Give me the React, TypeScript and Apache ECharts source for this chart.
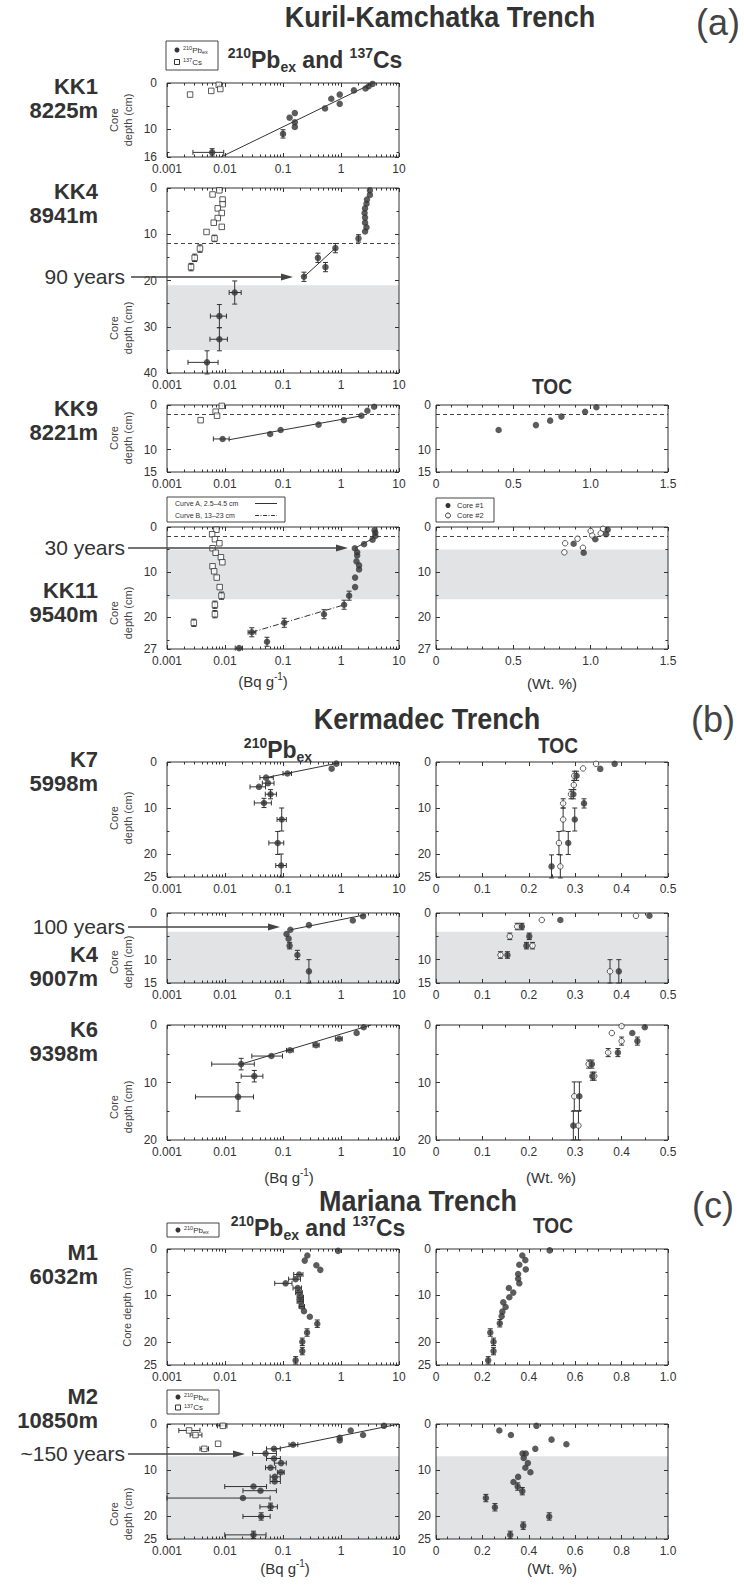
import React, { useEffect, useRef } from "react";
import * as echarts from "echarts";

const FONT = '"Liberation Sans", Arial, Helvetica, sans-serif';
const INK = "#333333";
const SHADE = "#e2e3e5";

/* ---------------- tick values ---------------- */
const logMajor = [0.001, 0.01, 0.1, 1, 10];
const logMinor = [0.002, 0.003, 0.004, 0.005, 0.006, 0.007, 0.008, 0.009, 0.02, 0.03, 0.04, 0.05, 0.06, 0.07, 0.08, 0.09, 0.2, 0.3, 0.4, 0.5, 0.6, 0.7, 0.8, 0.9, 2, 3, 4, 5, 6, 7, 8, 9];
const tocAMajor = [0, 0.5, 1.0, 1.5];
const tocAMinor = [0.1, 0.2, 0.3, 0.4, 0.6, 0.7, 0.8, 0.9, 1.1, 1.2, 1.3, 1.4];
const tocBMajor = [0, 0.1, 0.2, 0.3, 0.4, 0.5];
const tocBMinor = [0.05, 0.15, 0.25, 0.35, 0.45];
const tocCMajor = [0, 0.2, 0.4, 0.6, 0.8, 1.0];
const tocCMinor = [0.05, 0.1, 0.15, 0.25, 0.3, 0.35, 0.45, 0.5, 0.55, 0.65, 0.7, 0.75, 0.85, 0.9, 0.95];

const depthKK1 = [0, 10, 16];
const depthKK4 = [0, 10, 20, 30, 40];
const depth15 = [0, 10, 15];
const depthKK11 = [0, 10, 20, 27];
const depth25 = [0, 10, 20, 25];
const depth20 = [0, 10, 20];

/* ---------------- data ----------------
   activity points: [Bq/g, depth cm, xLow?, xHigh?, depthErr?]
   TOC points: [wt %, depth cm, depthErr?]                                  */
const kk1Pb = [[3.5, 0.2], [3.0, 0.7], [2.65, 1.2], [1.67, 1.6], [0.95, 2.5], [0.68, 3.4], [0.95, 4.5], [0.53, 5.5], [0.16, 6.5], [0.13, 7.5], [0.16, 8.5], [0.16, 9.5], [0.1, 11, null, null, 0.9], [0.006, 15, 0.0028, 0.0095, 0.8]];
const kk1Cs = [[0.0025, 2.5], [0.0058, 1.7], [0.0078, 0.4], [0.0083, 1.3]];
const kk1Fit = [[0.0085, 16], [3.6, 0]];

const kk4Pb = [[3.15, 0.5], [3.15, 1.5], [2.8, 2.5], [2.75, 3.4], [2.6, 4.4], [2.55, 5.4], [2.6, 6.4], [2.6, 7.5], [2.75, 8.5], [2.6, 9.4], [2.0, 10.9, null, null, 0.8], [0.8, 13.0, null, null, 1], [0.4, 15.1, null, null, 1], [0.54, 17.1, null, null, 1], [0.23, 19.2, null, null, 1], [0.0147, 22.6, 0.0118, 0.019, 2.5], [0.008, 27.7, 0.0056, 0.0106, 2.5], [0.008, 32.7, 0.0055, 0.011, 2.5], [0.0049, 37.7, 0.0023, 0.0076, 2.5]];
const kk4Cs = [[0.008, 0.5], [0.0061, 1.4], [0.0091, 2.5], [0.0091, 3.5], [0.0075, 4.4], [0.0088, 5.4], [0.0075, 6.5], [0.0064, 7.5], [0.0088, 8.4], [0.0048, 9.5], [0.0066, 10.9, null, null, 0.7], [0.0037, 13.1, null, null, 0.8], [0.003, 15.1, null, null, 0.8], [0.0026, 17.1, null, null, 0.8]];
const kk4Fit = [[0.23, 19.2], [0.8, 13.0]];

const kk9Pb = [[3.72, 0.4], [2.85, 1.3], [2.25, 2.4], [1.12, 3.4], [0.41, 4.4], [0.091, 5.6], [0.06, 6.5], [0.0091, 7.6, 0.0063, 0.0118]];
const kk9Cs = [[0.0088, 0.2], [0.0069, 1.5], [0.0073, 2.4], [0.0038, 3.4]];
const kk9Fit = [[0.0115, 7.8], [2.3, 2.4]];
const kk9Toc = [[1.037, 0.5], [0.964, 1.5], [0.811, 2.6], [0.738, 3.5], [0.646, 4.5], [0.405, 5.6]];

const kk11Pb = [[3.8, 0.7], [3.9, 1.3], [3.9, 2.0], [3.5, 2.8], [2.5, 3.8], [1.73, 4.7], [1.9, 5.6], [1.9, 6.3], [1.85, 7.6], [2.05, 8.5], [2.05, 9.4], [1.75, 11.2], [1.75, 13.3], [1.38, 15.2, null, null, 1], [1.13, 17.2, null, null, 1], [0.51, 19.3, null, null, 1], [0.105, 21.2, null, null, 1], [0.029, 23.3, 0.025, 0.034, 1], [0.053, 25.4, null, null, 1], [0.0175, 26.8, 0.015, 0.02]];
const kk11Cs = [[0.0071, 0.6], [0.006, 1.6], [0.0067, 2.7], [0.008, 3.6], [0.0061, 4.7], [0.0069, 5.7], [0.0085, 6.7], [0.009, 7.8], [0.0061, 8.7], [0.0065, 9.8], [0.0072, 11.2], [0.0081, 13.3], [0.0087, 15.2, null, null, 0.8], [0.0067, 17.2, null, null, 0.8], [0.0067, 19.3, null, null, 0.8], [0.0029, 21.2, null, null, 0.8]];
const kk11CurveA = [[1.73, 4.7], [3.6, 2.5]];
const kk11CurveB = [[0.029, 23.3], [1.15, 17.2]];
const kk11Toc1 = [[1.11, 0.6], [1.10, 1.6], [1.03, 2.7], [0.89, 3.7], [0.955, 5.7]];
const kk11Toc2 = [[1.08, 0.4], [1.0, 0.9], [1.065, 1.4], [1.01, 1.9], [0.915, 2.6], [0.835, 3.6], [0.95, 4.6], [0.83, 5.6]];

const k7Pb = [[0.83, 0.36], [0.69, 1.45], [0.119, 2.5, 0.1, 0.14], [0.051, 3.4, 0.04, 0.068], [0.055, 4.6, 0.044, 0.07], [0.0385, 5.4, 0.027, 0.05], [0.061, 7.0, 0.0495, 0.077, 1], [0.047, 8.9, 0.032, 0.063, 1], [0.095, 12.5, 0.079, 0.114, 2.5], [0.081, 17.6, 0.057, 0.103, 2.5], [0.093, 22.5, 0.075, 0.114, 2.5]];
const k7Fit = [[0.051, 3.4], [0.92, 0.2]];
const k7Toc1 = [[0.385, 0.4], [0.354, 1.5], [0.303, 3.0, 1], [0.296, 7.0, 1], [0.319, 9.0, 1], [0.299, 12.5, 2.5], [0.285, 17.6, 2.5], [0.249, 22.7, 2.5]];
const k7Toc2 = [[0.345, 0.4], [0.317, 1.4], [0.298, 3.0, 1], [0.297, 5.0, 1], [0.291, 7.0, 1], [0.274, 9.0, 1], [0.274, 12.5, 2.5], [0.265, 17.6, 2.5], [0.268, 22.7, 2.5]];

const k4Pb = [[2.4, 0.7], [1.6, 1.6], [0.28, 2.6], [0.134, 3.6], [0.115, 4.5], [0.125, 5.5], [0.13, 7.0, null, null, 0.7], [0.177, 9.0, null, null, 1], [0.28, 12.5, null, null, 2.5]];
const k4Fit = [[0.134, 3.6], [2.66, 0.36]];
const k4Toc1 = [[0.46, 0.6], [0.268, 1.5], [0.185, 2.9, 0.7], [0.201, 5.0, 0.7], [0.195, 7.0, 0.7], [0.154, 9.0, 0.7], [0.394, 12.5, 2.5]];
const k4Toc2 = [[0.431, 0.6], [0.228, 1.5], [0.175, 2.9, 0.7], [0.159, 5.0, 0.7], [0.208, 7.0, 0.7], [0.139, 9.0, 0.7], [0.375, 12.5, 2.5]];

const k6Pb = [[2.46, 0.4], [1.86, 1.4], [0.93, 2.4, 0.8, 1.05], [0.37, 3.5, 0.33, 0.42], [0.132, 4.4, 0.115, 0.15], [0.063, 5.4, 0.029, 0.098], [0.019, 6.8, 0.0059, 0.032, 1], [0.032, 8.9, 0.019, 0.045, 1], [0.0168, 12.5, 0.0031, 0.031, 2.5]];
const k6Fit = [[0.019, 6.8], [3.3, 0]];
const k6Toc1 = [[0.45, 0.4], [0.423, 1.4], [0.434, 2.8, 0.7], [0.392, 4.8, 0.7], [0.336, 6.8, 0.7], [0.337, 8.9, 0.7], [0.309, 12.4, 2.5], [0.296, 17.5, 2.5]];
const k6Toc2 = [[0.40, 0.2], [0.379, 1.4], [0.40, 2.8, 0.7], [0.371, 4.8, 0.7], [0.329, 6.8, 0.7], [0.341, 8.9, 0.7], [0.298, 12.4, 2.5], [0.307, 17.5, 2.5]];

const m1Pb = [[0.89, 0.4], [0.263, 1.4], [0.237, 2.5], [0.376, 3.5], [0.44, 4.5], [0.19, 5.5, 0.153, 0.221], [0.165, 6.5, 0.125, 0.2], [0.111, 7.4, 0.072, 0.143], [0.179, 8.4, 0.149, 0.208], [0.19, 9.4, 0.165, 0.215], [0.2, 10.4, 0.175, 0.225], [0.2, 11.3, 0.175, 0.225], [0.21, 12.4, 0.19, 0.235], [0.23, 13.4], [0.29, 14.6], [0.39, 16.1, null, null, 0.8], [0.26, 18.0, null, null, 0.8], [0.215, 20.0, null, null, 0.8], [0.215, 22.0, null, null, 0.8], [0.165, 24.0, null, null, 0.8]];
const m1Toc = [[0.49, 0.3], [0.372, 1.4], [0.385, 2.4], [0.359, 3.4], [0.387, 4.4], [0.354, 5.4], [0.354, 6.4], [0.359, 7.4], [0.314, 8.4], [0.333, 9.4], [0.316, 10.4], [0.29, 11.5], [0.30, 12.5], [0.286, 13.5], [0.283, 14.5], [0.275, 16.0, 0.8], [0.234, 18.0, 0.8], [0.248, 20.0, 0.8], [0.248, 22.0, 0.8], [0.225, 24.0, 0.8]];

const m2Pb = [[5.5, 0.4], [1.47, 1.4], [2.4, 2.4], [0.95, 3.0], [0.95, 3.6], [0.149, 4.5, 0.127, 0.18], [0.07, 5.4, 0.052, 0.09], [0.05, 6.4, 0.03, 0.077], [0.07, 7.5, 0.052, 0.09], [0.093, 8.5, 0.071, 0.114], [0.061, 9.5, 0.05, 0.075], [0.092, 10.5, 0.08, 0.105], [0.072, 11.5, 0.06, 0.09], [0.072, 12.5, 0.06, 0.09], [0.031, 13.6, 0.0099, 0.052], [0.041, 14.5, 0.0204, 0.077], [0.0204, 16.1, 0.001, 0.06], [0.061, 18.0, 0.04, 0.08, 0.8], [0.042, 20.1, 0.0204, 0.06, 0.8], [0.031, 24.1, 0.0099, 0.051, 0.8]];
const m2Cs = [[0.0092, 0.4, 0.0074, 0.0108], [0.0024, 1.4, 0.0016, 0.0037], [0.0031, 2.4, 0.0025, 0.004], [0.0076, 4.3], [0.0044, 5.4, 0.0037, 0.0052]];
const m2Fit = [[0.065, 5.6], [10, 0]];
const m2Toc = [[0.433, 0.4], [0.273, 1.4], [0.323, 2.4], [0.498, 3.4], [0.562, 4.4], [0.428, 5.4], [0.373, 6.4], [0.387, 6.4], [0.378, 7.4], [0.396, 8.5], [0.385, 9.5], [0.407, 10.5], [0.354, 11.5], [0.334, 12.6], [0.352, 13.6, 0.8], [0.372, 14.6, 0.8], [0.215, 16.1, 0.8], [0.254, 18.1, 0.8], [0.488, 20.1, 0.8], [0.376, 22.1, 0.8], [0.32, 24.1, 0.8]];

/* ---------------- layout ---------------- */
const LX = 167;
const RX = 436;
const PW = 232;
const panels: any[] = [
  { left: LX, top: 83, height: 74, x: "log", yMax: 16, yMajor: depthKK1, yMinor: [5, 15] },
  { left: LX, top: 188, height: 185, x: "log", yMax: 40, yMajor: depthKK4, yMinor: [5, 15, 25, 35] },
  { left: LX, top: 405, height: 67, x: "log", yMax: 15, yMajor: depth15, yMinor: [5] },
  { left: RX, top: 405, height: 67, x: "a", yMax: 15, yMajor: depth15, yMinor: [5] },
  { left: LX, top: 527, height: 122, x: "log", yMax: 27, yMajor: depthKK11, yMinor: [5, 15, 25] },
  { left: RX, top: 527, height: 122, x: "a", yMax: 27, yMajor: depthKK11, yMinor: [5, 15, 25] },
  { left: LX, top: 762, height: 115, x: "log", yMax: 25, yMajor: depth25, yMinor: [5, 15] },
  { left: RX, top: 762, height: 115, x: "b", yMax: 25, yMajor: depth25, yMinor: [5, 15] },
  { left: LX, top: 913, height: 70, x: "log", yMax: 15, yMajor: depth15, yMinor: [5] },
  { left: RX, top: 913, height: 70, x: "b", yMax: 15, yMajor: depth15, yMinor: [5] },
  { left: LX, top: 1025, height: 115, x: "log", yMax: 20, yMajor: depth20, yMinor: [5, 15] },
  { left: RX, top: 1025, height: 115, x: "b", yMax: 20, yMajor: depth20, yMinor: [5, 15] },
  { left: LX, top: 1249, height: 116, x: "log", yMax: 25, yMajor: depth25, yMinor: [5, 15] },
  { left: RX, top: 1249, height: 116, x: "c", yMax: 25, yMajor: depth25, yMinor: [5, 15] },
  { left: LX, top: 1424, height: 115, x: "log", yMax: 25, yMajor: depth25, yMinor: [5, 15] },
  { left: RX, top: 1424, height: 115, x: "c", yMax: 25, yMajor: depth25, yMinor: [5, 15] },
];

const tocFmt = (v: number) => (v === 0 ? "0" : v.toFixed(1));
const XS: any = {
  log: { type: "log", min: 0.001, max: 10, major: logMajor, minor: logMinor, fmt: (v: number) => String(+Number(v).toPrecision(3)) },
  a: { type: "value", min: 0, max: 1.5, major: tocAMajor, minor: tocAMinor, fmt: tocFmt },
  b: { type: "value", min: 0, max: 0.5, major: tocBMajor, minor: tocBMinor, fmt: tocFmt },
  c: { type: "value", min: 0, max: 1.0, major: tocCMajor, minor: tocCMinor, fmt: tocFmt },
};

function buildOption() {
  const grid: any[] = [];
  const xAxis: any[] = [];
  const yAxis: any[] = [];
  const series: any[] = [];
  const graphic: any[] = [];

  const lbl = { color: INK, fontSize: 12, fontFamily: FONT };
  const tick = (len: number, vals?: number[]) => ({
    show: true, inside: true, length: len, lineStyle: { color: INK, width: 1 },
    ...(vals ? { customValues: vals } : {}),
  });

  panels.forEach((p, i) => {
    grid.push({ left: p.left, top: p.top, width: PW, height: p.height, show: true, borderColor: INK, borderWidth: 1, backgroundColor: "transparent", z: 3 });
    const xs = XS[p.x];
    const base = { gridIndex: i, axisLine: { show: false, onZero: false }, splitLine: { show: false }, z: 3 };
    if (xs.type === "log") {
      const lg = { ...base, type: "log", logBase: 10, min: xs.min, max: xs.max, splitNumber: 4 };
      xAxis.push({ ...lg, position: "bottom", axisTick: tick(4), axisLabel: { ...lbl, margin: 6, interval: 0, formatter: xs.fmt } });
      xAxis.push({ ...lg, position: "top", axisTick: tick(4), axisLabel: { show: false } });
      const mv = xs.minor.map((v: number) => Math.log10(v));
      xAxis.push({ ...base, type: "value", min: -3, max: 1, position: "bottom", axisTick: tick(2.5, mv), axisLabel: { show: false } });
      xAxis.push({ ...base, type: "value", min: -3, max: 1, position: "top", axisTick: tick(2.5, mv), axisLabel: { show: false } });
    } else {
      const lv = { ...base, type: "value", min: xs.min, max: xs.max };
      xAxis.push({ ...lv, position: "bottom", axisTick: tick(4, xs.major), axisLabel: { ...lbl, margin: 6, customValues: xs.major, formatter: xs.fmt } });
      xAxis.push({ ...lv, position: "top", axisTick: tick(4, xs.major), axisLabel: { show: false } });
      xAxis.push({ ...lv, position: "bottom", axisTick: tick(2.5, xs.minor), axisLabel: { show: false } });
      xAxis.push({ ...lv, position: "top", axisTick: tick(2.5, xs.minor), axisLabel: { show: false } });
    }
    const yb = { ...base, type: "value", min: 0, max: p.yMax, inverse: true };
    const ym = p.left === LX ? 10 : 5;
    yAxis.push({ ...yb, position: "left", axisTick: tick(4, p.yMajor), axisLabel: { ...lbl, margin: ym, customValues: p.yMajor } });
    yAxis.push({ ...yb, position: "right", axisTick: tick(4, p.yMajor), axisLabel: { show: false } });
    yAxis.push({ ...yb, position: "left", axisTick: tick(2.5, p.yMinor), axisLabel: { show: false } });
    yAxis.push({ ...yb, position: "right", axisTick: tick(2.5, p.yMinor), axisLabel: { show: false } });
  });

  const ax = (i: number) => ({ xAxisIndex: 4 * i, yAxisIndex: 4 * i });
  const tocPts = (pts: any[]) => pts.map((q) => [q[0], q[1], null, null, q[2] == null ? null : q[2]]);

  function dots(i: number, pts: any[], kind: string, extra: any = {}) {
    const open = kind !== "dot";
    series.push({
      type: "scatter", ...ax(i), z: 5, silent: true,
      data: pts.map((q) => [q[0], q[1]]),
      symbol: kind === "sq" ? "rect" : "circle",
      symbolSize: open ? 5.5 : 6.5,
      itemStyle: open ? { color: "#ffffff", borderColor: INK, borderWidth: 1 } : { color: INK },
      ...extra,
    });
    const withErr = pts.filter((q) => q[2] != null || q[4] != null);
    if (withErr.length) {
      series.push({
        type: "custom", ...ax(i), z: 4, silent: true,
        dimensions: ["x", "d", "xl", "xh", "de"],
        encode: { x: 0, y: 1 },
        data: withErr.map((q) => [q[0], q[1], q[2] == null ? q[0] : q[2], q[3] == null ? q[0] : q[3], q[4] == null ? 0 : q[4]]),
        renderItem: (_params: any, api: any) => {
          const x = api.value(0), d = api.value(1), xl = api.value(2), xh = api.value(3), de = api.value(4);
          const st = { stroke: INK, lineWidth: 1 };
          const kids: any[] = [];
          const cap = 2.5;
          if (xl !== xh) {
            const a = api.coord([xl, d]);
            const b = api.coord([xh, d]);
            kids.push({ type: "line", shape: { x1: a[0], y1: a[1], x2: b[0], y2: b[1] }, style: st });
            kids.push({ type: "line", shape: { x1: a[0], y1: a[1] - cap, x2: a[0], y2: a[1] + cap }, style: st });
            kids.push({ type: "line", shape: { x1: b[0], y1: b[1] - cap, x2: b[0], y2: b[1] + cap }, style: st });
          }
          if (de > 0) {
            const a = api.coord([x, d - de]);
            const b = api.coord([x, d + de]);
            kids.push({ type: "line", shape: { x1: a[0], y1: a[1], x2: b[0], y2: b[1] }, style: st });
            kids.push({ type: "line", shape: { x1: a[0] - cap, y1: a[1], x2: a[0] + cap, y2: a[1] }, style: st });
            kids.push({ type: "line", shape: { x1: b[0] - cap, y1: b[1], x2: b[0] + cap, y2: b[1] }, style: st });
          }
          return { type: "group", children: kids };
        },
      });
    }
  }

  function fit(i: number, pts: any[], dash?: any) {
    series.push({
      type: "line", ...ax(i), z: 4, silent: true, symbol: "none",
      data: pts, lineStyle: { color: INK, width: 1, type: dash || "solid" },
    });
  }

  function decor(i: number, shade?: number[], dashAt?: number) {
    const xs = XS[panels[i].x];
    const extra: any = {};
    if (shade) {
      extra.markArea = {
        silent: true, z: 1, itemStyle: { color: SHADE },
        data: [[{ coord: [xs.min, shade[0]] }, { coord: [xs.max, shade[1]] }]],
      };
    }
    if (dashAt != null) {
      extra.markLine = {
        silent: true, z: 2, symbol: ["none", "none"], label: { show: false },
        lineStyle: { color: "#444", width: 1, type: [4, 3] },
        data: [[{ coord: [xs.min, dashAt] }, { coord: [xs.max, dashAt] }]],
      };
    }
    series.push({ type: "line", ...ax(i), data: [], symbol: "none", ...extra });
  }

  // (a) Kuril-Kamchatka
  fit(0, kk1Fit); dots(0, kk1Pb, "dot"); dots(0, kk1Cs, "sq");
  decor(1, [21, 35], 12); fit(1, kk4Fit); dots(1, kk4Pb, "dot"); dots(1, kk4Cs, "sq");
  decor(2, undefined, 2); fit(2, kk9Fit); dots(2, kk9Pb, "dot"); dots(2, kk9Cs, "sq");
  decor(3, undefined, 2); dots(3, tocPts(kk9Toc), "dot");
  decor(4, [5, 16], 2); fit(4, kk11CurveA); fit(4, kk11CurveB, [6, 2, 1, 2]); dots(4, kk11Pb, "dot"); dots(4, kk11Cs, "sq");
  decor(5, [5, 16], 2); dots(5, tocPts(kk11Toc2), "ring"); dots(5, tocPts(kk11Toc1), "dot");
  // (b) Kermadec
  fit(6, k7Fit); dots(6, k7Pb, "dot");
  dots(7, tocPts(k7Toc2), "ring"); dots(7, tocPts(k7Toc1), "dot");
  decor(8, [4, 15]); fit(8, k4Fit); dots(8, k4Pb, "dot");
  decor(9, [4, 15]); dots(9, tocPts(k4Toc2), "ring"); dots(9, tocPts(k4Toc1), "dot");
  fit(10, k6Fit); dots(10, k6Pb, "dot");
  dots(11, tocPts(k6Toc2), "ring"); dots(11, tocPts(k6Toc1), "dot");
  // (c) Mariana
  dots(12, m1Pb, "dot");
  dots(13, tocPts(m1Toc), "dot");
  decor(14, [7, 25]); fit(14, m2Fit); dots(14, m2Pb, "dot"); dots(14, m2Cs, "sq");
  decor(15, [7, 25]); dots(15, tocPts(m2Toc), "dot");

  /* ---------------- texts & annotations ---------------- */
  const T = (x: number, y: number, text: string, fontSize: number, o: any = {}) =>
    graphic.push({
      type: "text", x, y, z: 100, silent: true,
      rotation: o.rotation || 0, scaleX: o.scaleX || 1,
      style: {
        text, fontSize, fontFamily: FONT, fontWeight: o.bold ? "bold" : "normal",
        fill: o.fill || INK, align: o.align || "center", verticalAlign: "middle",
        lineHeight: o.lineHeight, rich: o.rich,
      },
    });

  const richTitle = {
    n: { fontSize: 23, fontWeight: "bold", fontFamily: FONT, fill: INK, lineHeight: 28, verticalAlign: "middle" },
    sp: { fontSize: 14, fontWeight: "bold", fontFamily: FONT, fill: INK, lineHeight: 18, verticalAlign: "top" },
    sb: { fontSize: 14, fontWeight: "bold", fontFamily: FONT, fill: INK, lineHeight: 18, verticalAlign: "bottom" },
  };
  const richSmall = {
    n: { fontSize: 8, fontFamily: FONT, fill: INK, lineHeight: 10, verticalAlign: "middle" },
    sp: { fontSize: 5.5, fontFamily: FONT, fill: INK, lineHeight: 6.5, verticalAlign: "top" },
    sb: { fontSize: 5.5, fontFamily: FONT, fill: INK, lineHeight: 6.5, verticalAlign: "bottom" },
  };
  const richUnit = {
    n: { fontSize: 15, fontFamily: FONT, fill: INK, lineHeight: 20, verticalAlign: "middle" },
    sp: { fontSize: 10, fontFamily: FONT, fill: INK, lineHeight: 12, verticalAlign: "top" },
  };

  // section titles
  T(440, 16, "Kuril-Kamchatka Trench", 30, { bold: true, scaleX: 0.9 });
  T(718, 22, "(a)", 36, { fill: "#444" });
  T(427, 718, "Kermadec Trench", 30, { bold: true, scaleX: 0.9 });
  T(713, 719, "(b)", 36, { fill: "#444" });
  T(418, 1200, "Mariana Trench", 30, { bold: true, scaleX: 0.9 });
  T(713, 1205, "(c)", 36, { fill: "#444" });

  // panel titles
  const pbCs = "{sp|210}{n|Pb}{sb|ex}{n| and }{sp|137}{n|Cs}";
  T(315, 60, pbCs, 23, { rich: richTitle });
  T(552, 386, "TOC", 22, { bold: true, scaleX: 0.87 });
  T(278, 750, "{sp|210}{n|Pb}{sb|ex}", 23, { rich: richTitle });
  T(558, 745, "TOC", 22, { bold: true, scaleX: 0.87 });
  T(318, 1228, pbCs, 23, { rich: richTitle });
  T(553, 1225, "TOC", 22, { bold: true, scaleX: 0.87 });

  // station labels
  const st = (y: number, a: string, b: string) => {
    T(98, y, a, 22, { bold: true, align: "right" });
    T(98, y + 24, b, 22, { bold: true, align: "right" });
  };
  st(86, "KK1", "8225m");
  st(191, "KK4", "8941m");
  st(408, "KK9", "8221m");
  st(590, "KK11", "9540m");
  st(759, "K7", "5998m");
  st(954, "K4", "9007m");
  st(1029, "K6", "9398m");
  st(1252, "M1", "6032m");
  st(1396, "M2", "10850m");

  // y-axis names
  const yn = (y: number, single?: boolean) =>
    T(single ? 127 : 121, y, single ? "Core depth (cm)" : "Core\ndepth (cm)", 11, { rotation: Math.PI / 2, lineHeight: 14, fill: "#444" });
  yn(120); yn(328); yn(438); yn(613); yn(818); yn(962); yn(1107); yn(1307, true); yn(1514);

  // x-axis names
  const bq = "{n|(Bq g}{sp|-1}{n|)}";
  T(263, 681, bq, 15, { rich: richUnit });
  T(289, 1177, bq, 15, { rich: richUnit });
  T(285, 1568, bq, 15, { rich: richUnit });
  T(552, 683, "(Wt. %)", 15);
  T(551, 1177, "(Wt. %)", 15);
  T(552, 1568, "(Wt. %)", 15);

  // year arrows
  const arrow = (label: string, x1: number, x2: number, y: number) => {
    T(125, y - 1, label, 21, { align: "right" });
    graphic.push({ type: "line", z: 100, silent: true, shape: { x1, y1: y, x2: x2 - 9, y2: y }, style: { stroke: "#444", lineWidth: 1.4 } });
    graphic.push({ type: "polygon", z: 100, silent: true, shape: { points: [[x2, y], [x2 - 12, y - 3.5], [x2 - 12, y + 3.5]] }, style: { fill: "#444" } });
  };
  arrow("90 years", 131, 293, 277);
  arrow("30 years", 128, 348, 548);
  arrow("100 years", 128, 280, 927);
  arrow("~150 years", 128, 245, 1454);

  // legends
  const box = (x: number, y: number, w: number, h: number) =>
    graphic.push({ type: "rect", z: 100, silent: true, shape: { x, y, width: w, height: h }, style: { fill: "#fff", stroke: "#444", lineWidth: 1 } });
  const dot = (cx: number, cy: number, open?: boolean) =>
    graphic.push({ type: "circle", z: 101, silent: true, shape: { cx, cy, r: 2.5 }, style: open ? { fill: "#fff", stroke: INK, lineWidth: 1 } : { fill: INK } });
  const sq = (cx: number, cy: number) =>
    graphic.push({ type: "rect", z: 101, silent: true, shape: { x: cx - 2.5, y: cy - 2.5, width: 5, height: 5 }, style: { fill: "#fff", stroke: INK, lineWidth: 1 } });
  const small = (x: number, y: number, text: string, size = 8) => T(x, y, text, size, { align: "left", rich: richSmall });
  const hline = (x1: number, x2: number, y: number, dash?: any) =>
    graphic.push({ type: "line", z: 101, silent: true, shape: { x1, y1: y, x2, y2: y }, style: { stroke: INK, lineWidth: 1, lineDash: dash } });

  box(166, 41, 52, 29); dot(177, 50); small(183, 50, "{sp|210}{n|Pb}{sb|ex}"); sq(177, 62); small(183, 62, "{sp|137}{n|Cs}");
  box(167, 497, 118, 25);
  T(175, 503.5, "Curve A, 2.5–4.5 cm", 7, { align: "left" }); hline(255, 277, 503.5);
  T(175, 515.5, "Curve B, 13–23 cm", 7, { align: "left" }); hline(255, 277, 515.5, [4, 1.5, 1, 1.5]);
  box(436, 498, 58, 24); dot(448, 505.5); T(457, 505.5, "Core #1", 7.5, { align: "left" });
  dot(448, 515.5, true); T(457, 515.5, "Core #2", 7.5, { align: "left" });
  box(167, 1223, 52, 14); dot(178, 1230); small(184, 1230, "{sp|210}{n|Pb}{sb|ex}");
  box(167, 1390, 52, 24); dot(178, 1397); small(184, 1397, "{sp|210}{n|Pb}{sb|ex}"); sq(178, 1407.5); small(184, 1407.5, "{sp|137}{n|Cs}");

  return {
    animation: false,
    backgroundColor: "#ffffff",
    textStyle: { fontFamily: FONT },
    grid, xAxis, yAxis, series, graphic,
  };
}

export default function App() {
  const ref = useRef<HTMLDivElement>(null);
  useEffect(() => {
    const chart = echarts.init(ref.current as HTMLDivElement, undefined, { renderer: "svg" });
    chart.setOption(buildOption() as any);
    return () => chart.dispose();
  }, []);
  return <div ref={ref} style={{ position: "absolute", left: 0, top: 0, width: 744, height: 1587, background: "#fff" }} />;
}
